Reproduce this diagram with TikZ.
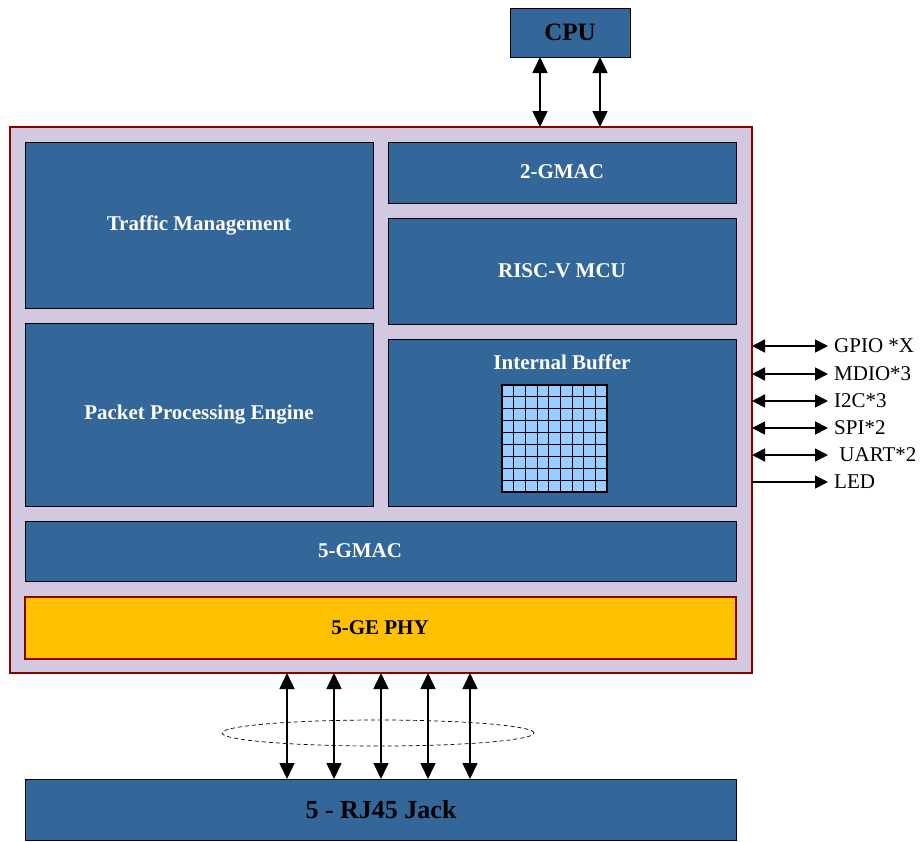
\documentclass[tikz,border=0pt]{standalone}
\usepackage{fontspec}
\setmainfont{Liberation Serif}
\usetikzlibrary{arrows.meta}
\definecolor{bluebox}{RGB}{51,102,153}
\definecolor{lav}{RGB}{210,201,224}
\definecolor{darkred}{RGB}{140,0,0}
\definecolor{phy}{RGB}{255,192,0}
\definecolor{cell}{RGB}{153,204,255}
\tikzset{
  blk/.style={draw=black, line width=0.8pt, fill=bluebox},
  wlabel/.style={text=white, font=\fontsize{21}{23}\selectfont\bfseries},
  blabel/.style={text=black, font=\fontsize{21}{23}\selectfont\bfseries},
  io/.style={text=black, anchor=west, inner sep=0pt, font=\fontsize{21}{23}\selectfont},
  biarrow/.style={line width=1.6pt, >={Triangle[length=16pt,width=15pt]}, <->},
  sidearrow/.style={line width=1.6pt, >={Triangle[length=13pt,width=13pt]}, <->},
  oarrow/.style={line width=1.6pt, >={Triangle[length=13pt,width=13pt]}, ->},
}
\begin{document}
\begin{tikzpicture}[x=1pt,y=-1pt]
\useasboundingbox (0,0) rectangle (921,841);
% CPU
\draw[blk] (510,8) rectangle (630,57);
\node[blabel, font=\fontsize{25}{27}\selectfont\bfseries] (cpu) at (570,32) {CPU};
\coordinate (cpuA) at (540,57);
\coordinate (cpuB) at (600,57);
% main chip
\draw[fill=lav, draw=darkred, line width=2.5pt] (10,127) rectangle (752,673);
\coordinate (chipA) at (540,127);
\coordinate (chipB) at (600,127);
\draw[biarrow] (cpuA) -- (chipA);
\draw[biarrow] (cpuB) -- (chipB);
% blocks
\draw[blk] (25,142) rectangle (373,308);
\node[wlabel] (tm) at (199,225) {Traffic Management};
\draw[blk] (388,142) rectangle (736,203);
\node[wlabel] (gmac2) at (562,172) {2-GMAC};
\draw[blk] (388,218) rectangle (736,324);
\node[wlabel] (mcu) at (562,271) {RISC-V MCU};
\draw[blk] (25,323) rectangle (373,506);
\node[wlabel] (ppe) at (199,415) {Packet Processing Engine};
\draw[blk] (388,339) rectangle (736,506);
\node[wlabel] (buf) at (562,362) {Internal Buffer};
\fill[cell] (502,385) rectangle (607,492);
\foreach \i in {1,...,8}{
  \draw[black, line width=1pt] ({502+\i*105/9},385) -- ({502+\i*105/9},492);
  \draw[black, line width=1pt] (502,{385+\i*107/9}) -- (607,{385+\i*107/9});
}
\draw[black, line width=1.2pt] (502,385) rectangle (607,492);
\draw[blk] (25,521) rectangle (736,581);
\node[wlabel] (gmac5) at (360,551) {5-GMAC};
\draw[fill=phy, draw=darkred, line width=1.8pt] (25,597) rectangle (736,659);
\node[blabel] (phy) at (380,628) {5-GE PHY};
% RJ45
\draw[blk] (25,779) rectangle (736,840);
\node[blabel, font=\fontsize{26}{28}\selectfont\bfseries] (rj) at (381,810) {5 - RJ45 Jack};
\foreach \x/\n in {287/1,334/2,381/3,428/4,470/5}{
  \coordinate (t\n) at (\x,673);
  \coordinate (b\n) at (\x,779);
  \draw[biarrow] (t\n) -- (b\n);
}
\draw[dash pattern=on 4pt off 3pt, line width=0.7pt] (378,733) ellipse [x radius=156pt, y radius=13pt];
% side IO
\foreach \y/\t/\n in {346/{GPIO *X}/1, 374/{MDIO*3}/2, 401/{I2C*3}/3, 428/{SPI*2}/4, 455/{\ UART*2}/5}{
  \coordinate (l\n) at (752,\y);
  \coordinate (r\n) at (828,\y);
  \draw[sidearrow] (l\n) -- (r\n);
  \node[io] (io\n) at (834,\y) {\t};
}
\coordinate (l6) at (752,482);
\coordinate (r6) at (828,482);
\draw[oarrow] (l6) -- (r6);
\node[io] (io6) at (834,482) {LED};
\end{tikzpicture}
\end{document}
